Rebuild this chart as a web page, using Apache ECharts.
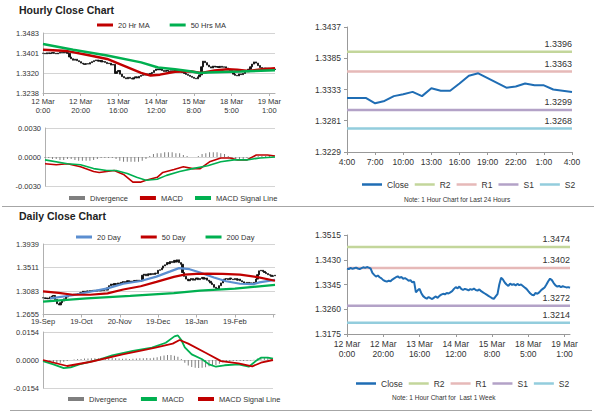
<!DOCTYPE html>
<html><head><meta charset="utf-8">
<script src="https://cdn.jsdelivr.net/npm/echarts@6/dist/echarts.min.js"></script>
<style>
html,body{margin:0;padding:0;background:#fff;width:600px;height:413px;overflow:hidden}
.c{position:absolute;width:300px;height:206px}
.sep{position:absolute;height:1px;background:#a6a6a6}
</style></head><body>
<div id="a" class="c" style="left:0;top:0"></div>
<div id="b" class="c" style="left:0;top:207px"></div>
<div id="c" class="c" style="left:300px;top:0"></div>
<div id="d" class="c" style="left:300px;top:207px"></div>
<div class="sep" style="left:2px;top:206px;width:592px"></div>
<div class="sep" style="left:10px;top:410px;width:582px"></div>
<script>
// ---------- DATA ----------
const hourTickLabels = ['12 Mar\n0:00','12 Mar\n20:00','13 Mar\n16:00','14 Mar\n12:00','15 Mar\n8:00','18 Mar\n5:00','19 Mar\n1:00'];
const hourlyClose = [
1.3400,1.3398,1.3402,1.3399,1.3401,1.3403,1.3400,1.3398,1.3401,1.3404,1.3402,1.3405,1.3403,1.3400,
1.3385,1.3378,1.3372,1.3376,1.3370,
1.3366,1.3360,1.3357,1.3355,1.3358,1.3356,
1.3362,1.3366,1.3370,1.3373,1.3368,1.3371,1.3365,1.3367,
1.3363,1.3358,1.3360,1.3352,1.3355,
1.3318,1.3325,1.3330,1.3315,
1.3305,1.3300,1.3296,1.3302,1.3298,1.3295,1.3300,1.3304,1.3299,
1.3306,1.3310,1.3313,1.3311,1.3316,1.3314,1.3318,1.3322,
1.3330,1.3336,1.3332,1.3338,1.3330,
1.3326,1.3330,1.3328,1.3325,1.3329,1.3327,1.3331,1.3326,1.3324,1.3328,1.3322,
1.3318,1.3314,1.3310,1.3306,1.3302,1.3298,
1.3296,1.3304,1.3312,
1.3345,1.3368,1.3362,1.3352,
1.3345,1.3340,1.3348,1.3344,1.3346,1.3342,1.3347,1.3343,1.3345,1.3340,1.3335,
1.3330,1.3322,1.3315,1.3310,1.3308,1.3316,1.3313,1.3318,
1.3325,1.3330,1.3335,1.3345,1.3356,1.3365,1.3360,
1.3350,1.3342,1.3338,1.3340,1.3336,1.3339,1.3337,1.3335,1.3336,1.3334];
const hourlyMA20 = [[0,1.3415],[13,1.3409],[25,1.3391],[34,1.3377],[43,1.3349],[52,1.3320],[57,1.3309],[62,1.3313],[70,1.3325],[78,1.3327],[84,1.3320],[91,1.3330],[98,1.3335],[103,1.3333],[109,1.3328],[116,1.3335],[123,1.3339]];
const hourlyMA50 = [[0,1.3438],[16,1.3415],[34,1.3391],[52,1.3363],[61,1.3342],[70,1.3335],[78,1.3327],[83,1.3320],[87,1.3322],[105,1.3326],[123,1.3331]];
const hourlyMACD = [[0,-0.0007],[6,-0.0008],[12,-0.0007],[19,-0.0010],[26,-0.0015],[29,-0.0016],[37,-0.0014],[42,-0.0018],[47,-0.0026],[51,-0.0026],[54,-0.0024],[60,-0.0021],[63,-0.0016],[69,-0.0013],[74,-0.0010],[79,-0.0012],[83,-0.0012],[88,-0.0005],[94,-0.0001],[99,-0.0001],[103,-0.0003],[108,-0.0003],[113,0.0002],[119,0.0002],[123,0.0001]];
const hourlySignal = [[0,-0.0003],[12,-0.0007],[19,-0.0008],[26,-0.0012],[33,-0.0014],[38,-0.0014],[44,-0.0017],[49,-0.0021],[54,-0.0024],[60,-0.0023],[65,-0.0019],[72,-0.0015],[79,-0.0012],[87,-0.0009],[94,-0.0005],[101,-0.0003],[108,-0.0003],[115,-0.0001],[123,0.0000]];
const hourlyDivergence = [-0.0001,-0.0001,-0.0002,-0.0002,-0.0003,-0.0003,-0.0002,-0.0002,-0.0003,-0.0004,-0.0004,-0.0004,-0.0004,-0.0003,-0.0002,-0.0001,-0.0001,-0.0001,-0.0001,-0.0002,-0.0004,-0.0005,-0.0005,-0.0005,-0.0005,-0.0005,-0.0004,-0.0002,0.0001,0.0003,0.0004,0.0004,0.0005,0.0005,0.0005,0.0004,0.0004,0.0002,0.0001,0.0000,0.0000,0.0001,0.0003,0.0004,0.0005,0.0005,0.0005,0.0004,0.0003,0.0001,-0.0001,-0.0002,-0.0002,-0.0002,-0.0001,-0.0001,0.0001,0.0001,0.0001,0.0001,0.0001,0.0001]; // every 2nd hour

const dayTickLabels = ['19-Sep','19-Oct','20-Nov','19-Dec','18-Jan','19-Feb'];
const dailyClose = [
1.2960,1.2945,1.2955,1.2940,1.2975,1.2990,
1.3000,1.2930,1.2850,1.2830,
1.2870,1.2900,1.2940,1.2975,
1.3000,1.3010,1.3020,1.3015,1.3025,1.3020,
1.3035,1.3050,1.3060,1.3080,1.3070,
1.3085,1.3070,1.3090,1.3075,1.3095,1.3080,1.3100,1.3085,1.3105,1.3090,1.3110,1.3100,
1.3140,1.3180,1.3210,1.3190,1.3220,1.3200,1.3230,1.3215,1.3240,
1.3255,1.3230,1.3270,1.3250,1.3265,1.3245,1.3275,1.3255,1.3280,1.3260,1.3270,
1.3370,1.3390,1.3360,1.3395,1.3380,1.3400,1.3385,1.3410,1.3400,1.3460,
1.3470,1.3500,1.3540,1.3560,1.3600,1.3580,1.3620,1.3600,1.3640,1.3610,1.3650,1.3600,1.3570,1.3420,
1.3350,1.3300,1.3270,1.3290,1.3310,1.3280,1.3300,1.3320,1.3290,1.3310,1.3330,1.3300,1.3320,
1.3280,1.3260,1.3230,1.3200,1.3150,1.3130,
1.3120,1.3180,1.3230,1.3280,1.3300,
1.3310,1.3290,1.3320,1.3300,1.3290,1.3310,1.3280,1.3300,1.3270,
1.3250,1.3230,1.3220,1.3240,1.3200,1.3230,1.3210,1.3240,
1.3300,1.3380,1.3450,1.3460,1.3440,1.3420,1.3400,1.3380,1.3370,1.3350,1.3360,1.3370];
const dailyMA20 = [[4,1.2950],[17,1.3005],[27,1.3070],[37,1.3130],[46,1.3215],[56,1.3265],[65,1.3345],[73,1.3440],[78,1.3500],[84,1.3480],[90,1.3420],[98,1.3330],[105,1.3260],[113,1.3215],[121,1.3210],[124,1.3240],[133,1.3285]];
const dailyMA50 = [[0,1.3075],[9,1.3050],[17,1.3015],[27,1.3015],[37,1.3040],[46,1.3110],[56,1.3170],[65,1.3250],[75,1.3340],[81,1.3380],[88,1.3395],[94,1.3400],[103,1.3395],[113,1.3380],[123,1.3335],[133,1.3270]];
const dailyMA200 = [[0,1.2890],[25,1.2950],[50,1.2995],[75,1.3045],[90,1.3090],[110,1.3125],[133,1.3195]];
const dailyMACD = [[0,-0.0006],[6,-0.0024],[12,-0.0045],[16,-0.0040],[21,-0.0024],[33,0.0004],[40,0.0026],[52,0.0050],[63,0.0068],[71,0.0095],[76,0.0130],[78,0.0135],[80,0.0110],[82,0.0070],[86,0.0031],[92,0.0004],[96,-0.0024],[100,-0.0037],[105,-0.0029],[113,-0.0024],[119,-0.0037],[123,-0.0006],[126,0.0013],[130,0.0013],[133,0.0007]];
const dailySignal = [[0,0.0000],[14,-0.0033],[27,-0.0011],[46,0.0031],[56,0.0050],[65,0.0068],[75,0.0090],[79,0.0110],[84,0.0090],[94,0.0040],[103,-0.0006],[113,-0.0018],[121,-0.0035],[126,-0.0015],[133,0.0000]];
const dailyDivergence = [0,-0.0005,-0.0010,-0.0015,-0.0018,-0.0015,-0.0010,-0.0005,0.0000,0.0003,0.0005,0.0006,0.0008,0.0008,0.0009,0.0010,0.0010,0.0012,0.0011,0.0010,0.0011,0.0009,0.0008,0.0007,0.0008,0.0006,0.0007,0.0008,0.0009,0.0010,0.0011,0.0010,0.0012,0.0015,0.0020,0.0025,0.0027,0.0028,0.0024,0.0018,0.0005,-0.0015,-0.0030,-0.0038,-0.0042,-0.0044,-0.0043,-0.0040,-0.0035,-0.0032,-0.0028,-0.0020,-0.0014,-0.0010,-0.0008,-0.0006,-0.0005,-0.0005,-0.0006,-0.0005,-0.0003,0.0002,0.0008,0.0012,0.0013,0.0012,0.0010]; // every 2nd day

const h24TickLabels = ['4:00','7:00','10:00','13:00','16:00','19:00','22:00','1:00','4:00'];
const close24 = [1.3319,1.3319,1.3319,1.3310,1.3314,1.3322,1.3325,1.3329,1.3322,1.3335,1.3331,1.3331,1.3343,1.3356,1.3360,1.3352,1.3344,1.3336,1.3338,1.3343,1.3340,1.3340,1.3333,1.3331,1.3329];
const levels24 = {R2:1.3396, R1:1.3363, S1:1.3299, S2:1.3268};
const levelsWeek = {R2:1.3474, R1:1.3402, S1:1.3272, S2:1.3214};

// ---------- HELPERS ----------
const FONT = '"Liberation Sans", Arial, sans-serif';
const lab = {fontFamily: FONT, fontSize: 7.5, color: '#333'};
const lab2 = {fontFamily: FONT, fontSize: 8.5, color: '#333'};
const GRID_C = '#d4d4d4', AX_C = '#b0b0b0';
const levelColors = {R2:'#c3d69b', R1:'#e6b9b8', S1:'#b3a2c7', S2:'#93cddd'};
const CLOSE_C = '#1f6db4';

function ohlc(arr){ return arr.map((c,i)=>{ const o = i? arr[i-1]:c; return [o,c,Math.min(o,c),Math.max(o,c)]; }); }
function every2(arr){ return arr.map((v,k)=>[2*k, v]); }
function idx(n){ return Array.from({length:n},(_,i)=>String(i)); }
function lineS(name, data, color, w, xi, yi){
  return {name, type:'line', data, xAxisIndex:xi||0, yAxisIndex:yi||0, showSymbol:false, symbol:'none',
    lineStyle:{color, width:w}, itemStyle:{color}, z:3};
}
function candle(name, arr, xi, yi){
  return {name, type:'candlestick', data:ohlc(arr), xAxisIndex:xi||0, yAxisIndex:yi||0, barWidth:1.7,
    itemStyle:{color:'#111', color0:'#111', borderColor:'#111', borderColor0:'#111', borderWidth:0.9}, z:2};
}
function yPrice(gi, min, max, n, opts){
  return Object.assign({type:'value', gridIndex:gi, min, max, interval:(max-min)/n,
    axisLabel:Object.assign({}, lab, {formatter:v=>v.toFixed(4), margin:4}),
    axisLine:{show:true, lineStyle:{color:AX_C}}, axisTick:{show:false},
    splitLine:{show:true, lineStyle:{color:GRID_C}}}, opts||{});
}

// ---------- CHART A: hourly ----------
const hN = hourlyClose.length;
const chartA = echarts.init(document.getElementById('a'), null, {renderer:'svg'});
chartA.setOption({
  animation:false,
  title:{text:'Hourly Close Chart', left:14, top:-1, textStyle:{fontFamily:FONT, fontSize:10.5, fontWeight:'bold', color:'#222'}},
  legend:[
    {data:['20 Hr MA','50 Hrs MA'], left:92, top:16, icon:'rect', itemWidth:16, itemHeight:3, itemGap:20, textStyle:lab},
    {data:['Divergence','MACD','MACD Signal Line'], left:64, top:189, icon:'rect', itemWidth:16, itemHeight:4, itemGap:12, textStyle:lab}
  ],
  grid:[{left:43, top:33, width:232, height:60},{left:45, top:128, width:230, height:58}],
  xAxis:[
    {type:'category', gridIndex:0, data:idx(hN), boundaryGap:false,
      axisLine:{lineStyle:{color:AX_C}}, axisTick:{show:true, interval:19, length:3, lineStyle:{color:AX_C}},
      axisLabel:Object.assign({}, lab, {interval:19, margin:4, lineHeight:9, formatter:(v,i)=>hourTickLabels[i/20]||''})},
    {type:'category', gridIndex:1, data:idx(hN), boundaryGap:false, axisLine:{show:false}, axisTick:{show:false}, axisLabel:{show:false}}
  ],
  yAxis:[yPrice(0, 1.3238, 1.3483, 3), yPrice(1, -0.003, 0.003, 2)],
  series:[
    candle('Close', hourlyClose, 0, 0),
    lineS('20 Hr MA', hourlyMA20, '#c00000', 2.5, 0, 0),
    lineS('50 Hrs MA', hourlyMA50, '#00b050', 2.5, 0, 0),
    {name:'Divergence', type:'bar', xAxisIndex:1, yAxisIndex:1, data:every2(hourlyDivergence), barWidth:1, itemStyle:{color:'#7f7f7f'}},
    lineS('MACD', hourlyMACD, '#c00000', 1.6, 1, 1),
    lineS('MACD Signal Line', hourlySignal, '#00b050', 1.6, 1, 1)
  ]
});

// ---------- CHART B: daily ----------
const dN = dailyClose.length;
const chartB = echarts.init(document.getElementById('b'), null, {renderer:'svg'});
chartB.setOption({
  animation:false,
  title:{text:'Daily Close Chart', left:14, top:-2, textStyle:{fontFamily:FONT, fontSize:10.5, fontWeight:'bold', color:'#222'}},
  legend:[
    {data:['20 Day','50 Day','200 Day'], left:71, top:21, icon:'rect', itemWidth:16, itemHeight:3, itemGap:20, textStyle:lab},
    {data:['Divergence','MACD','MACD Signal Line'], left:63, top:183, icon:'rect', itemWidth:16, itemHeight:4, itemGap:14, textStyle:lab}
  ],
  grid:[{left:43, top:37, width:232, height:70.5},{left:43, top:125, width:230, height:56}],
  xAxis:[
    {type:'category', gridIndex:0, data:idx(dN), boundaryGap:false,
      axisLine:{lineStyle:{color:AX_C}}, axisTick:{show:true, interval:21, length:3, lineStyle:{color:AX_C}},
      axisLabel:Object.assign({}, lab, {interval:21, margin:3, formatter:(v,i)=>dayTickLabels[i/22]||''})},
    {type:'category', gridIndex:1, data:idx(dN), boundaryGap:false, axisLine:{show:false}, axisTick:{show:false}, axisLabel:{show:false}}
  ],
  yAxis:[yPrice(0, 1.2655, 1.3939, 3), yPrice(1, -0.0154, 0.0154, 2)],
  series:[
    candle('Close', dailyClose, 0, 0),
    lineS('20 Day', dailyMA20, '#5b8ed0', 2.2, 0, 0),
    lineS('50 Day', dailyMA50, '#c00000', 2.2, 0, 0),
    lineS('200 Day', dailyMA200, '#00b050', 2.2, 0, 0),
    {name:'Divergence', type:'bar', xAxisIndex:1, yAxisIndex:1, data:every2(dailyDivergence), barWidth:1, itemStyle:{color:'#7f7f7f'}},
    lineS('MACD', dailyMACD, '#00b050', 1.8, 1, 1),
    lineS('MACD Signal Line', dailySignal, '#c00000', 1.8, 1, 1)
  ]
});

// ---------- RIGHT charts ----------
function levelSeries(levels, n){
  return ['R2','R1','S1','S2'].map(k=>{
    const v = levels[k];
    const data = Array.from({length:n}, (_,i)=> i < n-1 ? v : {value:v,
      label:{show:true, position:'top', align:'right', distance:3, formatter:v.toFixed(4), color:'#333', fontFamily:FONT, fontSize:9}});
    return {name:k, type:'line', showSymbol:true, showAllSymbol:true, symbol:'circle', symbolSize:0.01, data,
      lineStyle:{color:levelColors[k], width:2.5}, itemStyle:{color:levelColors[k]}, z:1,
      label:{show:false}, labelLayout:{hideOverlap:false}};
  });
}
function rightOption(cfg){
  return {
    animation:false,
    legend:{data:['Close','R2','R1','S1','S2'], left:cfg.legLeft, top:cfg.legTop, icon:'rect', itemWidth:20, itemHeight:2.5, itemGap:6, textStyle:lab2},
    graphic:[{type:'text', left:cfg.noteLeft, top:cfg.noteTop, style:{text:cfg.note, font:'6.5px '+FONT, fill:'#333'}}],
    grid:cfg.grid,
    xAxis:{type:'category', data:idx(cfg.n), boundaryGap:false,
      axisLine:{lineStyle:{color:'#999'}}, axisTick:{show:true, interval:cfg.tickEvery-1, length:3, lineStyle:{color:'#999'}},
      axisLabel:Object.assign({}, lab2, {interval:cfg.tickEvery-1, margin:5, lineHeight:10, formatter:(v,i)=>cfg.ticks[i/cfg.tickEvery]||''})},
    yAxis:{type:'value', min:cfg.min, max:cfg.max, interval:(cfg.max-cfg.min)/4,
      axisLabel:Object.assign({}, lab2, {formatter:v=>v.toFixed(4), margin:6}),
      axisLine:{show:true, lineStyle:{color:'#999'}}, axisTick:{show:true, length:3, lineStyle:{color:'#999'}}, splitLine:{show:false}},
    series:[
      ...levelSeries(cfg.levels, cfg.n),
      {name:'Close', type:'line', showSymbol:false, symbol:'none', data:cfg.data, lineStyle:{color:CLOSE_C, width:2}, itemStyle:{color:CLOSE_C}, z:5}
    ]
  };
}
const chartC = echarts.init(document.getElementById('c'), null, {renderer:'svg'});
chartC.setOption(rightOption({n:close24.length, data:close24, levels:levels24, min:1.3229, max:1.3437,
  grid:{left:47, top:27, width:225, height:125}, ticks:h24TickLabels, tickEvery:3,
  legLeft:57, legTop:175, note:'Note: 1 Hour Chart for Last 24 Hours', noteLeft:104, noteTop:196}));
const chartD = echarts.init(document.getElementById('d'), null, {renderer:'svg'});
chartD.setOption(rightOption({n:hourlyClose.length, data:hourlyClose, levels:levelsWeek, min:1.3175, max:1.3515,
  grid:{left:47, top:28, width:223, height:99}, ticks:hourTickLabels, tickEvery:20,
  legLeft:51, legTop:167, note:'Note: 1 Hour Chart for  Last 1 Week', noteLeft:92, noteTop:187}));
</script>
</body></html>
